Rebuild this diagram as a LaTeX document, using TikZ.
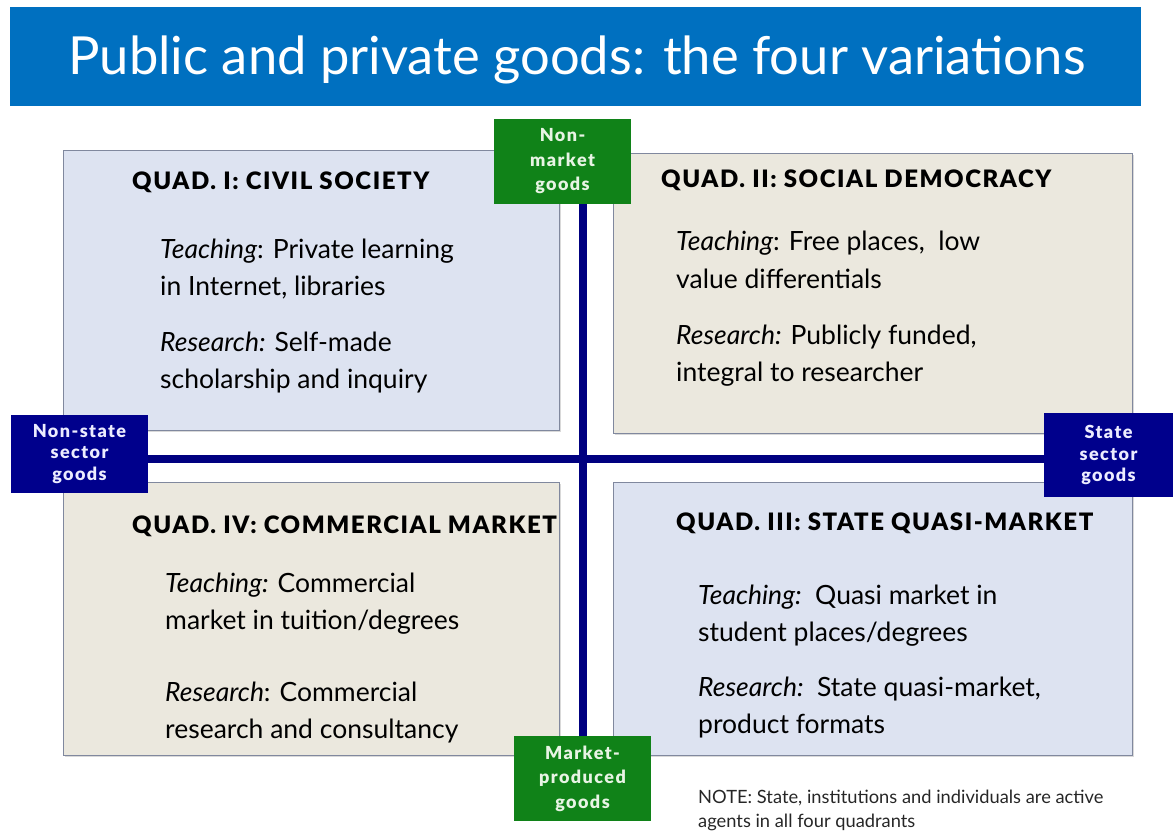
\documentclass[tikz,border=0pt]{standalone}
\usepackage{fontspec}
\setmainfont{Lato}
\newfontfamily\headfont[LetterSpace=6.5]{Lato Black}
\newfontfamily\tagfont[LetterSpace=8]{Lato Black}
\usetikzlibrary{backgrounds}
\definecolor{titleblue}{RGB}{0,112,192}
\definecolor{qblue}{RGB}{221,227,241}
\definecolor{qbeige}{RGB}{235,232,222}
\definecolor{qborder}{RGB}{128,136,158}
\definecolor{navy}{RGB}{0,0,140}
\definecolor{axisblue}{RGB}{0,0,128}
\definecolor{mgreen}{RGB}{16,130,24}
\definecolor{ltext}{RGB}{232,244,228}
\definecolor{ntext}{RGB}{236,236,255}
\begin{document}
\begin{tikzpicture}[x=1pt,y=-1pt,
  quad/.style={draw=qborder, line width=1.3pt, anchor=north west, inner sep=0pt},
  shadowbox/.style={fill=black!25, anchor=north west, inner sep=0pt, opacity=0.6},
  heading/.style={anchor=base west, inner sep=0pt, font=\fontsize{24}{26}\selectfont\headfont},
  body/.style={anchor=base west, inner sep=0pt, align=left, font=\fontsize{26.5}{37}\selectfont},
  greentag/.style={inner sep=0pt, align=center, font=\fontsize{18}{24.5}\selectfont\tagfont, fill=mgreen, text=ltext, minimum width=137pt, minimum height=85pt},
  navytag/.style={inner sep=0pt, align=center, font=\fontsize{18}{21.5}\selectfont\tagfont, fill=navy, text=ntext},
  axis/.style={draw=axisblue, line width=8pt}
]
\useasboundingbox (0,0) rectangle (1175,834);
% title
\node[fill=titleblue, minimum width=1131pt, minimum height=99pt, anchor=north west, inner sep=0pt] (titlebar) at (10,7) {};
\node[anchor=base, inner sep=0pt, text=white, font=\fontsize{52.5}{55}\selectfont] (title) at (577,75) {Public and private goods: the four variations};
% shadows
\node[shadowbox, minimum width=496pt, minimum height=280pt] (s1) at (65,152) {};
\node[shadowbox, minimum width=519pt, minimum height=280pt] (s2) at (615,155) {};
\node[shadowbox, minimum width=496pt, minimum height=273pt] (s4) at (65,484) {};
\node[shadowbox, minimum width=519pt, minimum height=273pt] (s3) at (615,484) {};
% quadrants
\node[quad, fill=qblue, minimum width=496pt, minimum height=280pt] (q1) at (63,150) {};
\node[quad, fill=qbeige, minimum width=519pt, minimum height=280pt] (q2) at (613,153) {};
\node[quad, fill=qbeige, minimum width=496pt, minimum height=273pt] (q4) at (63,482) {};
\node[quad, fill=qblue, minimum width=519pt, minimum height=273pt] (q3) at (613,482) {};
% headings
\node[heading] (h1) at (132,190) {QUAD. I: CIVIL SOCIETY};
\node[heading] (h2) at (661,188) {QUAD. II: SOCIAL DEMOCRACY};
\node[heading] (h4) at (132,533) {QUAD. IV: COMMERCIAL MARKET};
\node[heading] (h3) at (676,530) {QUAD. III: STATE QUASI-MARKET};
% body texts (anchor = baseline of the last line)
\node[body] (t1) at (160,296) {\textit{Teaching}: Private learning\\in Internet, libraries};
\node[body] (r1) at (160,388) {\textit{Research:} Self-made\\scholarship and inquiry};
\node[body] (t2) at (676,288) {\textit{Teaching}: Free places,\ \ low\\value differentials};
\node[body] (r2) at (676,381) {\textit{Research:} Publicly funded,\\integral to researcher};
\node[body] (t4) at (165,629) {\textit{Teaching:} Commercial\\market in tuition/degrees};
\node[body] (r4) at (165,738) {\textit{Research}: Commercial\\research and consultancy};
\node[body] (t3) at (698,641) {\textit{Teaching:}\ \ Quasi market in\\student places/degrees};
\node[body] (r3) at (698,733) {\textit{Research:}\ \ State quasi-market,\\product formats};
% axis tags
\node[greentag] (nm) at (562.5,161.5) {Non-\\market\\goods};
\node[greentag] (mp) at (582.5,778.5) {Market-\\produced\\goods};
\node[navytag, minimum width=137pt, minimum height=78pt] (ns) at (79.5,454) {Non-state\\sector\\goods};
\node[navytag, minimum width=129pt, minimum height=84pt] (st) at (1108.5,455) {State\\sector\\goods};
% axes
\coordinate (vx) at (583,0);
\coordinate (hy) at (0,459);
\begin{scope}[on background layer]
\draw[axis] (nm.south -| vx) -- (mp.north -| vx);
\draw[axis] (ns.east |- hy) -- (st.west |- hy);
\end{scope}
% note
\node[anchor=base west, inner sep=0pt, align=left, font=\fontsize{18.3}{24}\selectfont, text=black!85] (note) at (698,827) {NOTE: State, institutions and individuals are active\\agents in all four quadrants};
\end{tikzpicture}
\end{document}
